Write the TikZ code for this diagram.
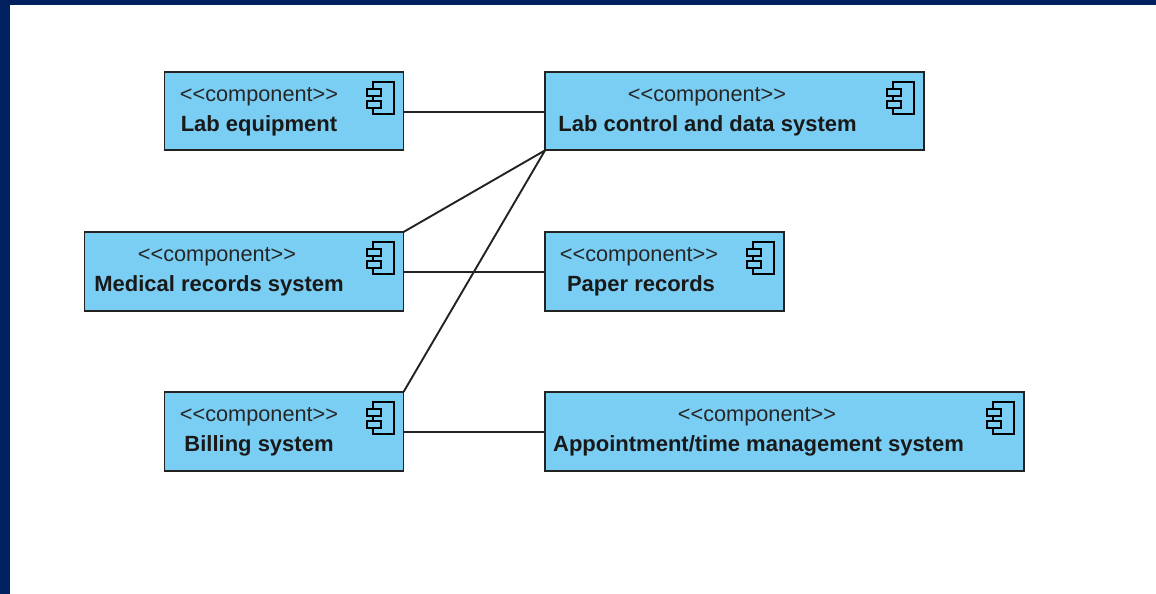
\documentclass[tikz,border=0pt]{standalone}
\usepackage{fontspec}
\setmainfont{Liberation Sans}
\definecolor{frameblue}{HTML}{002060}
\definecolor{compfill}{HTML}{7ACEF4}
\definecolor{edgegray}{HTML}{222222}
\newcommand{\compicon}[2]{%
  \draw[iconline] (#1+5.4,#2+0) rectangle (#1+26.4,#2+32.6);
  \draw[iconline,fill=compfill] (#1,#2+7) rectangle (#1+14,#2+14.6);
  \draw[iconline,fill=compfill] (#1,#2+19.3) rectangle (#1+14,#2+26.6);
}
\tikzset{
  x=1pt,y=-1pt,
  compbox/.style={draw=edgegray,line width=1.9pt,fill=compfill,minimum width=#1,minimum height=78.8pt,inner sep=0pt,outer sep=0pt},
  stereo/.style={font=\fontsize{21.7}{26}\selectfont,text=black!85,inner sep=0pt},
  cname/.style={font=\fontsize{22}{26}\selectfont\bfseries,text=black!90,inner sep=0pt},
  iconline/.style={draw=black,line width=2pt},
  link/.style={draw=edgegray,line width=1.9pt}
}
\begin{document}
\begin{tikzpicture}
\useasboundingbox (0,0) rectangle (1156,594);
\fill[frameblue] (0,0) rectangle (1156,5);
\fill[frameblue] (0,0) rectangle (10,594);
\node[compbox=239pt] (lab) at (284,111) {};
\node[compbox=379pt] (ctrl) at (734.5,111) {};
\node[compbox=319pt] (med) at (244,271.4) {};
\node[compbox=239pt] (paper) at (664.5,271.4) {};
\node[compbox=239pt] (bill) at (284,431.4) {};
\node[compbox=479pt] (appt) at (784.5,431.4) {};
\draw[link] ([yshift=-0.8pt]lab.east) -- ([yshift=-0.8pt]ctrl.west);
\draw[link] (med.north east) -- (ctrl.south west);
\draw[link] (bill.north east) -- (ctrl.south west);
\draw[link] ([yshift=-0.9pt]med.east) -- ([yshift=-0.9pt]paper.west);
\draw[link] ([yshift=-0.9pt]bill.east) -- ([yshift=-0.9pt]appt.west);
\node[stereo] (s1) at (259,97) {<{}<component>{}>};
\node[cname] (n1) at (259,126) {Lab equipment};
\node[stereo] (s2) at (707,97) {<{}<component>{}>};
\node[cname] (n2) at (707.5,126) {Lab control and data system};
\node[stereo] (s3) at (217,257) {<{}<component>{}>};
\node[cname] (n3) at (219,286) {Medical records system};
\node[stereo] (s4) at (639,257) {<{}<component>{}>};
\node[cname] (n4) at (641,286) {Paper records};
\node[stereo] (s5) at (259,417) {<{}<component>{}>};
\node[cname] (n5) at (259,446) {Billing system};
\node[stereo] (s6) at (757,417) {<{}<component>{}>};
\node[cname] (n6) at (758.5,446) {Appointment/time management system};
\compicon{367.3}{81.7}
\compicon{887.3}{81.7}
\compicon{367.3}{241.7}
\compicon{747.3}{241.7}
\compicon{367.3}{401.7}
\compicon{987.3}{401.7}
\end{tikzpicture}
\end{document}
